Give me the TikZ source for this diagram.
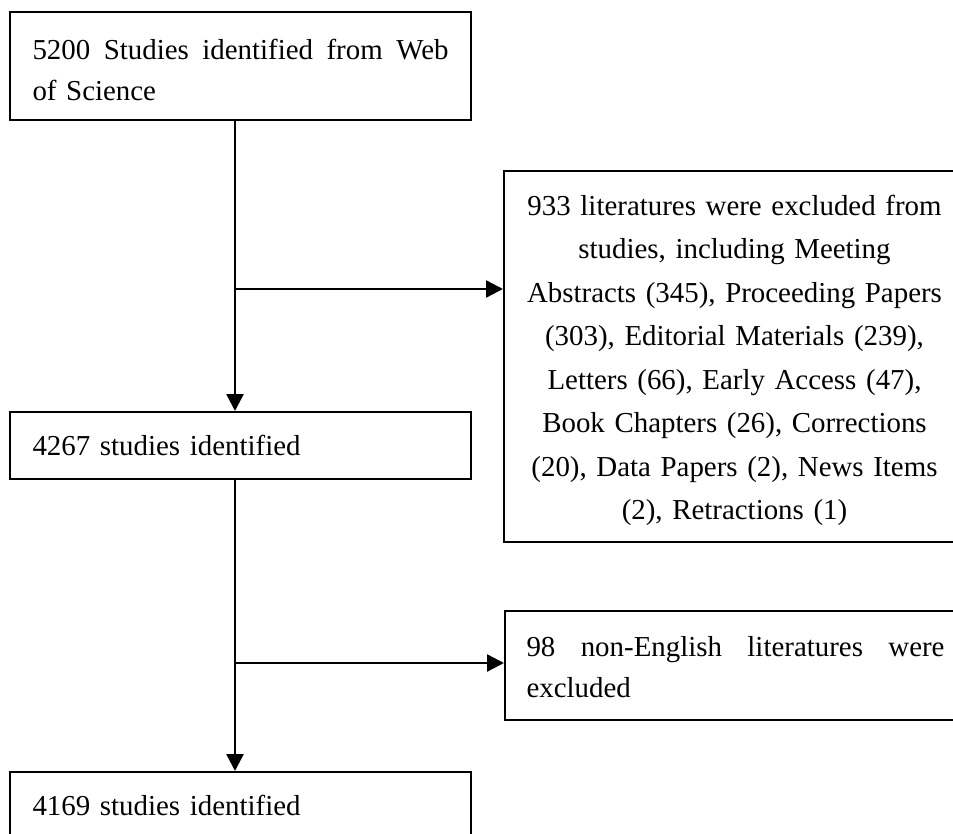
\documentclass[tikz,border=0pt]{standalone}
\usepackage{fontspec}
\setmainfont{Liberation Serif}
\usetikzlibrary{arrows.meta,calc}
\newcommand{\upstrut}[1]{\rule{0pt}{#1}}
\begin{document}
\begin{tikzpicture}[x=1pt,y=1pt,
  box/.style={draw, line width=2pt, inner sep=0pt, minimum width=461pt,
    font=\fontsize{28.9}{41}\selectfont},
  bigbox/.style={box, font=\fontsize{28.9}{43.5}\selectfont},
  arr/.style={line width=2.4pt, -{Triangle[length=17pt,width=17pt]}},
]
\useasboundingbox (0,0) rectangle (953,-834);
\clip (0,0) rectangle (953,-834);
\node[box, minimum height=108pt, text width=416pt, align=left] (b1) at (240.5,-66)
  {\upstrut{28pt}5200\hfill Studies\hfill identified\hfill from\hfill Web\\of Science};
\node[box, minimum height=67pt, text width=416pt, align=left] (b2) at (240.5,-445.5)
  {4267 studies identified};
\node[box, minimum height=67pt, text width=416pt, align=left] (b4) at (240.5,-805.5)
  {4169 studies identified};
\node[bigbox, minimum height=371pt, text width=440pt, align=center] (b3) at (734.5,-356.5)
  {\upstrut{28pt}933 literatures were excluded from\\studies, including Meeting\\Abstracts (345), Proceeding Papers\\(303), Editorial Materials (239),\\Letters (66), Early Access (47),\\Book Chapters (26), Corrections\\(20), Data Papers (2), News Items\\(2), Retractions (1)};
\node[box, minimum height=109pt, text width=418pt, align=left] (b5) at (735.5,-665.5)
  {\upstrut{24pt}98\hfill non-English\hfill literatures\hfill were\\excluded};
\coordinate (j1) at (235,-289);
\coordinate (j2) at (235,-663);
\draw[arr] ([xshift=-5.5pt]b1.south) -- ([xshift=-5.5pt]b2.north);
\draw[arr] ([xshift=-5.5pt]b2.south) -- ([xshift=-5.5pt]b4.north);
\draw[arr] (j1) -- (j1 -| b3.west);
\draw[arr] (j2) -- (j2 -| b5.west);
\end{tikzpicture}
\end{document}
